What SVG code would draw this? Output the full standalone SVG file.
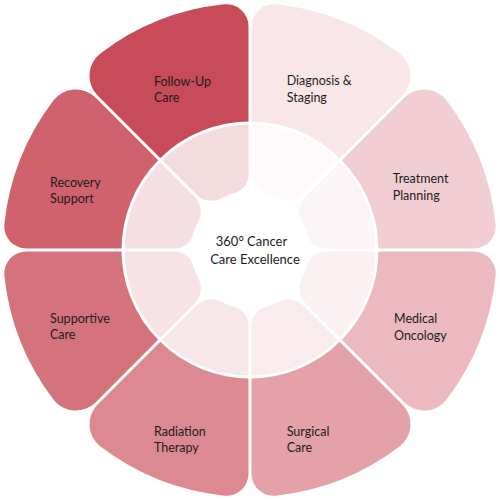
<svg xmlns="http://www.w3.org/2000/svg" width="500" height="500" viewBox="0 0 500 500">
<style>
.lbl{font-family:Lato,"Open Sans","Liberation Sans",sans-serif;font-size:12.5px;fill:#1c1c1c}
.ctr{font-family:Lato,"Open Sans","Liberation Sans",sans-serif;font-size:13px;fill:#1c1c1c;text-anchor:middle}
</style>
<defs>
<path id="petal" d="M1.5,-75.26 L1.5,-223.77 A22,22 0 0 1 25.8,-245.65 A247,247 0 0 1 149.53,-196.58 A28,28 0 0 1 152.38,-154.5 L53.22,-55.34 A21,21 0 0 1 28.3,-51.77 A59,59 0 0 0 15.51,-56.93 A19,19 0 0 1 1.5,-75.26 Z"/>
</defs>
<rect width="500" height="500" fill="#ffffff"/>
<g transform="translate(250,250)">
<g id="diagnosis"><use href="#petal" fill="#f9e6e9"/></g>
<g id="treatment"><use href="#petal" fill="#f0ced4" transform="matrix(0,-1,-1,0,0,0)"/></g>
<g id="medical"><use href="#petal" fill="#ebb9bf" transform="rotate(90)"/></g>
<g id="surgical"><use href="#petal" fill="#e4a1a8" transform="scale(1,-1)"/></g>
<g id="radiation"><use href="#petal" fill="#dd8992" transform="rotate(180)"/></g>
<g id="supportive"><use href="#petal" fill="#d5737d" transform="matrix(0,1,1,0,0,0)"/></g>
<g id="recovery"><use href="#petal" fill="#d0626d" transform="rotate(-90)"/></g>
<g id="followup"><use href="#petal" fill="#c84b59" transform="scale(-1,1)"/></g>
</g>
<g id="hub">
<circle cx="250" cy="250" r="127" fill="#ffffff" fill-opacity="0.8" stroke="#ffffff" stroke-width="3"/>
<text class="ctr" x="251.5" y="246">360° Cancer</text>
<text class="ctr" x="255" y="263.5">Care Excellence</text>
</g>
<g id="labels">
<text class="lbl" x="154" y="86">Follow-Up</text>
<text class="lbl" x="154" y="101.7">Care</text>
<text class="lbl" x="286.7" y="85">Diagnosis &amp;</text>
<text class="lbl" x="286.7" y="101.7">Staging</text>
<text class="lbl" x="392.7" y="183.3">Treatment</text>
<text class="lbl" x="392.7" y="200">Planning</text>
<text class="lbl" x="394" y="323.3">Medical</text>
<text class="lbl" x="394" y="340">Oncology</text>
<text class="lbl" x="286.7" y="436">Surgical</text>
<text class="lbl" x="286.7" y="451.7">Care</text>
<text class="lbl" x="154" y="435.7">Radiation</text>
<text class="lbl" x="154" y="451.7">Therapy</text>
<text class="lbl" x="50" y="323.3">Supportive</text>
<text class="lbl" x="50" y="339.3">Care</text>
<text class="lbl" x="50" y="186.7">Recovery</text>
<text class="lbl" x="50" y="203.3">Support</text>
</g>
<g id="connectors"></g>
</svg>
